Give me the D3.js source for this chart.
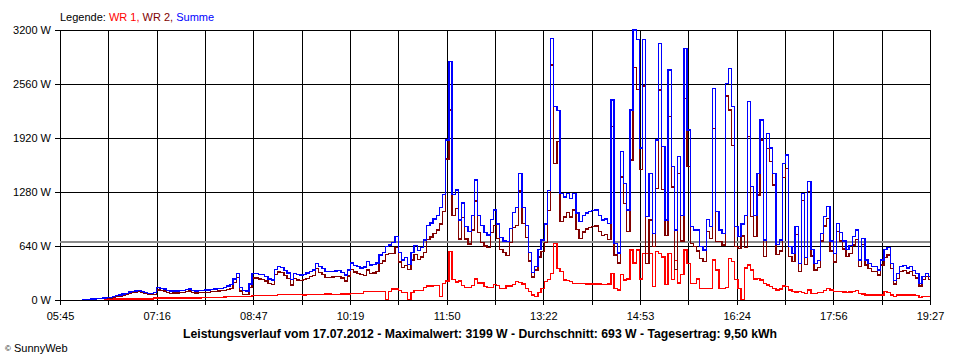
<!DOCTYPE html>
<html><head><meta charset="utf-8">
<script src="https://cdn.jsdelivr.net/npm/d3@7"></script>
<style>
body{margin:0;background:#fff}
svg{display:block}
text{font-family:"Liberation Sans",Arial,sans-serif;font-size:11px;fill:#000}
</style>
</head><body>
<svg id="chart" width="960" height="360"></svg>
<script>
// ---- data ----
const dayStart = "05:45";          // left edge of the axis
const dayEnd = "19:27";            // right edge of the axis
const firstSampleMin = 21;         // first sample at 06:06 (minutes after 05:45)
const sampleStepMin = 3;           // one sample every 3 minutes
const xTickLabels = ["05:45","07:16","08:47","10:19","11:50","13:22","14:53","16:24","17:56","19:27"];
const yTickValues = [0, 640, 1280, 1920, 2560, 3200];
const averageW = 693;
const seriesNames = ["WR 1", "WR 2", "Summe"];
const titleText = "Leistungsverlauf vom 17.07.2012 - Maximalwert: 3199 W - Durchschnitt: 693 W - Tagesertrag: 9,50 kWh";

const wr1 = [null,null,null,null,null,null,null,10,12,12,
12,12,12,12,12,12,12,12,12,12,
12,12,12,25,25,25,25,25,25,25,
25,25,25,25,25,25,25,25,27,27,
27,27,27,27,27,35,43,43,43,43,
43,43,43,43,55,55,55,55,55,55,
55,55,63,63,63,63,63,63,63,63,
60,62,65,65,63,65,68,70,70,68,
65,68,70,70,72,79,79,79,79,99,
99,99,99,99,99,99,5,99,130,130,
110,87,87,5,87,111,111,111,146,166,
166,170,170,40,198,225,572,245,215,225,
170,146,146,170,249,200,200,160,146,146,
186,170,138,140,166,166,180,217,210,190,
140,99,59,40,90,138,217,240,316,672,
375,336,237,230,217,198,198,198,195,190,
190,190,188,190,180,185,190,316,140,118,
300,237,250,592,440,592,250,553,553,553,
158,573,553,510,180,553,240,470,200,300,
592,435,198,198,250,138,138,138,140,474,
355,138,138,150,494,460,240,138,10,380,
415,355,250,257,237,198,178,160,138,118,
130,166,158,118,99,95,99,87,80,118,
79,80,87,90,110,138,120,99,99,99,
95,87,95,99,110,79,70,59,59,59,
59,59,59,99,85,60,40,59,59,59,
59,59,59,55,32,40,40,40];

const wr2 = [5,8,10,12,12,15,20,15,16,18,
28,38,48,58,68,83,88,93,98,88,
73,68,68,65,120,115,105,85,80,83,
83,85,90,100,105,90,83,85,85,93,
91,98,103,108,113,115,122,137,207,267,
107,67,62,147,261,261,250,245,225,195,
182,305,332,322,287,257,177,252,237,233,
245,258,275,290,372,330,302,270,265,272,
280,282,260,226,283,361,331,316,301,291,
356,316,321,341,434,461,540,553,550,620,
450,387,413,360,473,539,479,509,565,714,
746,790,830,900,1052,1671,2252,1005,1088,723,
980,723,664,830,1173,800,680,640,624,804,
880,730,602,560,525,684,860,883,1291,910,
740,461,271,355,510,573,683,1060,2784,1618,
1875,928,983,1034,983,1066,832,730,805,840,
856,870,878,810,768,775,719,2054,532,439,
1457,1146,816,1660,2759,2498,1550,2537,435,948,
632,1323,2489,1307,768,2173,1340,360,1500,700,
2391,1580,671,632,580,494,454,812,729,2034,
691,692,652,2417,2251,1830,630,612,760,620,
1935,988,750,1243,1896,513,1797,1640,1362,542,
581,1454,1560,514,454,774,336,1177,420,1284,
521,355,383,700,878,968,580,451,810,701,
605,513,555,651,720,395,661,415,376,336,
341,296,415,501,535,375,190,257,336,351,
321,341,291,261,166,240,276,240];

const summe = [5,8,10,12,12,15,20,25,28,30,
40,50,60,70,80,95,100,105,110,100,
85,80,80,90,145,140,130,110,105,108,
108,110,115,125,130,115,108,110,112,120,
118,125,130,135,140,150,165,180,250,310,
150,110,105,190,316,316,305,300,280,250,
237,360,395,385,350,320,240,315,300,296,
305,320,340,355,435,395,370,340,335,340,
345,350,330,296,355,440,410,395,380,390,
455,415,420,440,533,560,632,652,680,750,
560,474,500,420,560,650,590,620,711,880,
912,960,1000,1100,1250,1896,2824,1250,1303,948,
1150,869,810,1000,1422,1000,880,800,770,950,
1066,900,740,700,691,850,1040,1100,1501,1100,
880,560,330,395,600,711,900,1300,3100,2290,
2250,1264,1220,1264,1200,1264,1030,928,1000,1030,
1046,1060,1066,1000,948,960,909,2370,672,557,
1757,1383,1066,2252,3199,3090,1800,3090,988,1501,
790,1896,3042,1817,948,2726,1580,830,1700,1000,
2983,2015,869,830,830,632,592,950,869,2508,
1046,830,790,2567,2745,2290,870,750,900,1000,
2350,1343,1000,1500,2133,711,1975,1800,1500,660,
711,1620,1718,632,553,869,435,1264,500,1402,
600,435,470,790,988,1106,700,550,909,800,
700,600,650,750,830,474,731,474,435,395,
400,355,474,600,620,435,230,316,395,410,
380,400,350,316,198,280,316,280];

const seriesColors = ["#ff0000", "#800000", "#0000ff"];

// ---- drawing ----
const toMin = s => { const [h, m] = s.split(":").map(Number); return h * 60 + m; };
const spanMin = toMin(dayEnd) - toMin(dayStart);
const svg = d3.select("#chart");
const plotL = 60, plotR = 930, plotT = 30, plotB = 300;

const x = d3.scaleLinear().domain([0, spanMin]).range([plotL, plotR]);
const y = d3.scaleLinear().domain([0, 3200]).range([plotB, plotT]);

const nGrid = (xTickLabels.length - 1) * 2;
const gridMins = d3.range(nGrid + 1).map(i => i * spanMin / nGrid);

// horizontal grid lines
svg.append("g").attr("transform", `translate(${plotL},0)`)
  .call(d3.axisLeft(y).tickValues(yTickValues).tickSize(-(plotR - plotL)).tickFormat(""))
  .call(g => g.select(".domain").remove())
  .call(g => g.selectAll("line").attr("stroke", "#000").attr("shape-rendering", "crispEdges"));

// vertical grid lines
svg.append("g").attr("transform", `translate(0,${plotB})`)
  .call(d3.axisBottom(x).tickValues(gridMins).tickSize(-(plotB - plotT)).tickFormat(""))
  .call(g => g.select(".domain").remove())
  .call(g => g.selectAll("line").attr("stroke", "#000").attr("shape-rendering", "crispEdges"));

// y axis ticks and labels
svg.append("g").attr("transform", `translate(${plotL},0)`)
  .call(d3.axisLeft(y).tickValues(yTickValues).tickSize(5).tickPadding(4).tickFormat(d => d + " W"))
  .call(g => g.select(".domain").remove())
  .call(g => g.selectAll("line").attr("stroke", "#000").attr("shape-rendering", "crispEdges"))
  .call(g => g.selectAll("text").attr("font-family", "Liberation Sans, Arial, sans-serif").attr("font-size", 11).attr("fill", "#000"));

// x axis ticks and labels
svg.append("g").attr("transform", `translate(0,${plotB})`)
  .call(d3.axisBottom(x).tickValues(gridMins).tickSize(5).tickPadding(7)
    .tickFormat((d, i) => i % 2 === 0 ? xTickLabels[i / 2] : ""))
  .call(g => g.select(".domain").remove())
  .call(g => g.selectAll("line").attr("stroke", "#000").attr("shape-rendering", "crispEdges"))
  .call(g => g.selectAll("text").attr("font-family", "Liberation Sans, Arial, sans-serif").attr("font-size", 11).attr("fill", "#000"));

// average line
svg.append("line")
  .attr("x1", x(0)).attr("x2", x(spanMin))
  .attr("y1", y(averageW)).attr("y2", y(averageW))
  .attr("stroke", "#8c8c8c").attr("stroke-width", 2).attr("shape-rendering", "crispEdges");

// series
const line = d3.line()
  .defined(d => d.v != null)
  .curve(d3.curveStep)
  .x(d => x(d.t))
  .y(d => y(d.v));

[wr1, wr2, summe].forEach((arr, k) => {
  const pts = arr.map((v, i) => ({ t: firstSampleMin + i * sampleStepMin, v }));
  svg.append("path")
    .datum(pts)
    .attr("fill", "none")
    .attr("stroke", seriesColors[k])
    .attr("stroke-width", 1.3)
    .attr("stroke-linejoin", "miter")
    .attr("shape-rendering", "crispEdges")
    .attr("d", line);
});

// legend
const leg = svg.append("text").attr("x", plotL).attr("y", 21);
leg.append("tspan").text("Legende: ").attr("fill", "#000");
seriesNames.forEach((n, i) => {
  leg.append("tspan").text(n + (i < seriesNames.length - 1 ? ", " : "")).attr("fill", seriesColors[i]);
});

// bottom title
svg.append("text")
  .attr("x", 480).attr("y", 338)
  .attr("text-anchor", "middle")
  .attr("font-weight", "bold")
  .style("font-size", "12px")
  .attr("textLength", 594)
  .attr("lengthAdjust", "spacingAndGlyphs")
  .text(titleText);

// copyright
const cp = svg.append("text").attr("x", 5).attr("y", 352);
cp.append("tspan").text("©").style("font-size", "8px").attr("dy", -1);
cp.append("tspan").text(" SunnyWeb").attr("dy", 1);
</script>
</body></html>
